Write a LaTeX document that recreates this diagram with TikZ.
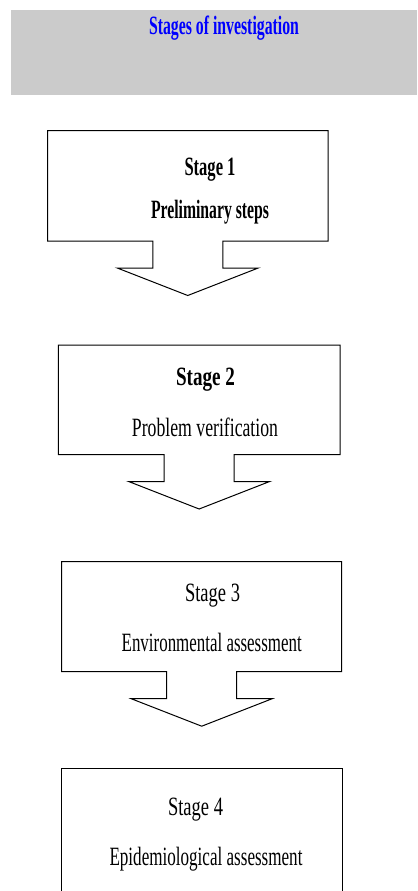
\documentclass[tikz,border=0pt]{standalone}
\usepackage{fontspec}
\setmainfont{Liberation Serif}
\usepackage{graphicx}
\usetikzlibrary{calc}
\definecolor{bandgray}{HTML}{CBCBCB}
\definecolor{titleblue}{HTML}{0000FF}
\newcommand{\fitw}[2]{\resizebox{#1bp}{\height}{#2}}
% callout box: L R T B
\newcommand{\calloutbox}[4]{%
  \draw[outline] (#1,#3) -- (#2,#3) -- (#2,#4)
    -- ({(#1+#2)/2+35},#4) -- ({(#1+#2)/2+35},#4+27)
    -- ({(#1+#2)/2+70.5},#4+27) -- ({(#1+#2)/2},#4+54.5)
    -- ({(#1+#2)/2-70.5},#4+27) -- ({(#1+#2)/2-35},#4+27)
    -- ({(#1+#2)/2-35},#4) -- (#1,#4) -- cycle;}
\begin{document}
\begin{tikzpicture}[x=1bp,y=-1bp,
  txt/.style={anchor=base,inner sep=0pt,font=\fontsize{26.5}{26.5}\selectfont},
  btxt/.style={anchor=base,inner sep=0pt,font=\fontsize{26.5}{26.5}\selectfont\bfseries},
  outline/.style={draw=black,line width=1bp,line join=miter}]
\useasboundingbox (0,0) rectangle (417,891);
\clip (0,0) rectangle (417,891);
\fill[white] (0,0) rectangle (417,891);
% title band
\node[fill=bandgray,inner sep=0pt,minimum width=406bp,minimum height=85bp] (band) at (214,52.5) {};
\node[btxt,text=titleblue] (title) at (224,35) {\fitw{150}{Stages of investigation}};
% boxes with arrows
\calloutbox{47.5}{328}{130.5}{241}
\calloutbox{58.3}{340}{345}{454.5}
\calloutbox{61.7}{341.7}{561.7}{671.7}
\draw[outline] (61.7,900) -- (61.7,768.3) -- (342.7,768.3) -- (342.7,900);
% texts
\node[btxt] (s1) at (210,175) {\fitw{51}{Stage 1}};
\node[btxt] (p1) at (210,218.5) {\fitw{118}{Preliminary steps}};
\node[btxt] (s2) at (205.5,385) {\fitw{59}{Stage 2}};
\node[txt] (p2) at (205,436) {\fitw{146}{Problem verification}};
\node[txt] (s3) at (212.5,601.5) {\fitw{55}{Stage 3}};
\node[txt] (p3) at (211.7,651.5) {\fitw{180}{Environmental assessment}};
\node[txt] (s4) at (195.5,815) {\fitw{55}{Stage 4}};
\node[txt] (p4) at (206,865) {\fitw{193}{Epidemiological assessment}};
\end{tikzpicture}
\end{document}
